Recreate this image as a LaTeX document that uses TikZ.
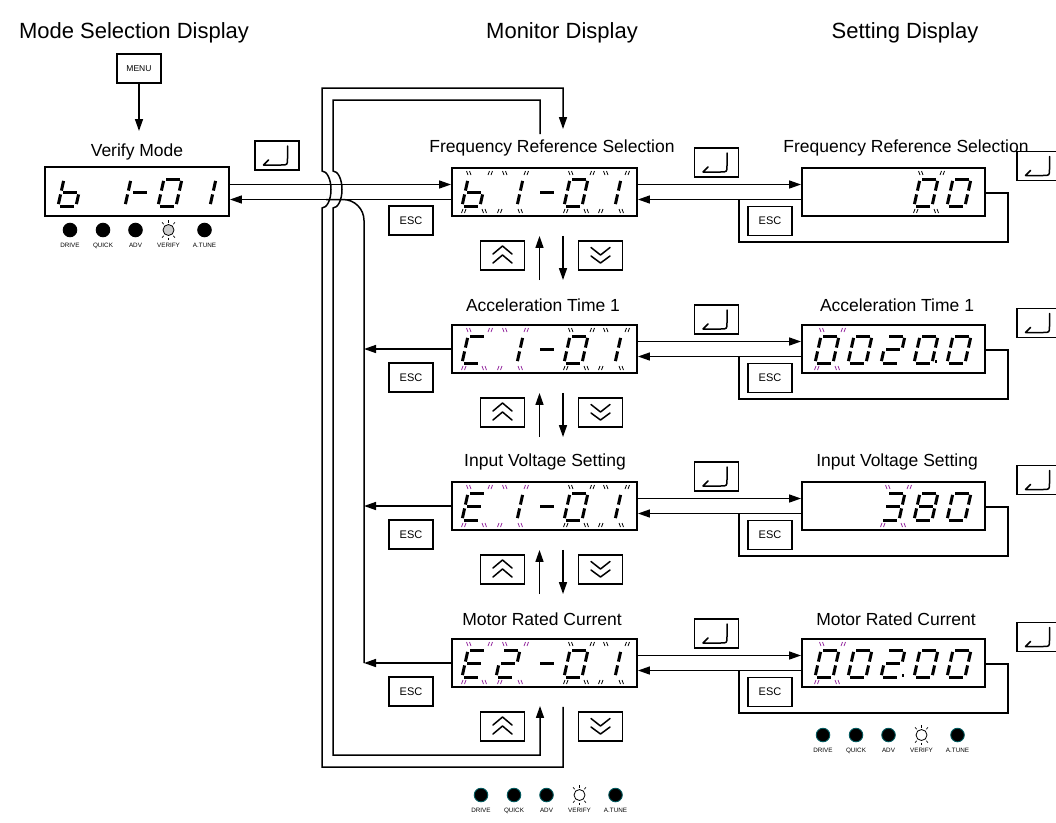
\documentclass[tikz,border=0pt]{standalone}
\usepackage{fontspec}
\setmainfont{Liberation Sans}
\usetikzlibrary{arrows.meta,calc}
\definecolor{blinkp}{RGB}{150,45,160}
\definecolor{ledrim}{RGB}{0,90,95}
% seven-segment helpers: 0=a 1=b 2=c 3=d 4=e 5=f 6=g
\newcommand\drawseg[1]{\ifcase#1\relax
 \draw[segl] (0.13,1)--(0.87,1);\or
 \draw[segl] (1,0.93)--(1,0.57);\or
 \draw[segl] (1,0.43)--(1,0.07);\or
 \draw[segl] (0.13,0)--(0.87,0);\or
 \draw[segl] (0,0.43)--(0,0.07);\or
 \draw[segl] (0,0.93)--(0,0.57);\or
 \draw[segl] (0.13,0.5)--(0.87,0.5);\fi}
\def\dZero{0,1,2,3,4,5}
\def\dOne{1,2}
\def\dTwo{0,1,6,4,3}
\def\dThree{0,1,6,2,3}
\def\dEight{0,1,2,3,4,5,6}
\def\dbb{5,4,6,2,3}
\def\dCC{0,5,4,3}
\def\dEE{0,5,6,4,3}
\def\dDash{6}
\newcommand\dig[3]{\begin{scope}[shift={(#1,#2)},x={(18pt,0pt)},y={(6pt,27pt)}]\foreach \s in #3 {\drawseg{\s}}\end{scope}}
\newcommand\dotseg[2]{\fill (#1+20.5,#2-2.8) rectangle ++(2.8,2.8);}
\newcommand\blink[3]{\begin{scope}[shift={(#1,#2)},line width=0.8pt,draw=#3]
 \draw (4.5,-35) -- (6,-31) (7.5,-35) -- (9,-31);
 \draw (27.5,-35) -- (26,-31) (30.5,-35) -- (29,-31);
 \draw (1,3) -- (-0.5,7) (4,3) -- (2.5,7);
 \draw (20,3) -- (21.5,7) (23,3) -- (24.5,7);
 \end{scope}}
\newcommand\enterglyph[1]{\begin{scope}[shift={(#1.center)}]\draw[glyph] (10.5,-9.5) -- (10.5,3) .. controls (10.5,9.5) .. (4,9.5) -- (-13.5,9.5) -- (-8.5,4.5);\end{scope}}
\newcommand\upglyph[1]{\begin{scope}[shift={(#1.center)}]\draw[glyph] (-9.5,-1.5) -- (0,-9.5) -- (9.5,-1.5) (-9.5,7.5) -- (0,-0.5) -- (9.5,7.5);\end{scope}}
\newcommand\downglyph[1]{\begin{scope}[shift={(#1.center)}]\draw[glyph] (-9.5,-8) -- (0,-0.5) -- (9.5,-8) (-9.5,0.5) -- (0,7.5) -- (9.5,0.5);\end{scope}}
\newcommand\ledrow[5]{%
 \foreach \dx/\lab/\i in {0/DRIVE/1,33/QUICK/2,65.5/ADV/3,134.5/A.TUNE/5}{
   \fill[draw=#4,line width=0.9pt,fill=black] (#1+\dx,#2) circle[radius=6.8pt];
   \node[ledlab] (#5lab\i) at (#1+\dx,#2+17) {\lab};}
 \draw[line width=0.8pt,fill=#3] (#1+98.5,#2) circle[radius=5.5pt];
 \foreach \a in {50,90,130,230,270,310} \draw[line width=0.7pt] ($(#1+98.5,#2)+(\a:7.5pt)$) -- ($(#1+98.5,#2)+(\a:10pt)$);
 \node[ledlab] (#5lab4) at (#1+98.5,#2+17) {VERIFY};}
\begin{document}
\begin{tikzpicture}[x=1pt,y=-1pt,
 line/.style={line width=1.5pt},
 arr/.style={line width=1.5pt,-{Triangle[length=12pt,width=8pt]}},
 disp/.style={draw,line width=1.9pt,minimum width=185pt,minimum height=48pt,inner sep=0pt},
 keybox/.style={draw,line width=1.4pt,minimum width=44pt,minimum height=29pt,inner sep=0pt},
 ttl/.style={font=\fontsize{22}{25}\selectfont},
 lbl/.style={font=\fontsize{17.5}{20}\selectfont},
 esclab/.style={keybox,font=\fontsize{11}{13}\selectfont},
 ledlab/.style={font=\fontsize{6.3}{7}\selectfont,inner sep=0pt,anchor=base},
 segl/.style={line width=3pt,line cap=butt},
 glyph/.style={line width=1.5pt,line cap=round,line join=round}]
\useasboundingbox (0,0) rectangle (1056,822);

% column titles
\node[ttl] (t1) at (134,33) {Mode Selection Display};
\node[ttl] (t2) at (562,33) {Monitor Display};
\node[ttl] (t3) at (905,33) {Setting Display};

% verify mode column
\node[keybox,font=\fontsize{8.5}{10}\selectfont] (menu) at (139,68.5) {MENU};
\node[lbl] (vlab) at (137,152) {Verify Mode};
\node[disp,minimum width=184pt,minimum height=49pt] (vd) at (137,191.5) {};
\coordinate (menuend) at (139,131);
\draw[arr] (menu) -- (menuend);
\node[keybox] (ent0) at (277,155.5) {};
\enterglyph{ent0}
\dig{58}{206}{\dbb}
\dig{107}{206}{\dOne}
\dig{128}{206}{\dDash}
\dig{158}{206}{\dZero}
\dig{192}{206}{\dOne}
\ledrow{70}{230}{gray!40}{black}{va}

% monitor and setting rows
\foreach \k/\c in {1/192,2/349,3/506,4/663}{
 \node[disp] (m\k) at (544.5,\c) {};
 \node[disp,minimum width=183pt] (s\k) at (893.5,\c) {};
 \node[esclab] (mesc\k) at (411,\c+28.5) {ESC};
 \node[esclab] (sesc\k) at (770,\c+29) {ESC};
 \node[keybox] (ment\k) at (716.5,\c-29.5) {};
 \enterglyph{ment\k}
 \node[keybox] (rent\k) at (1039,\c-26) {};
 \enterglyph{rent\k}
 \node[keybox] (up\k) at (502.5,\c+63.5) {};
 \upglyph{up\k}
 \node[keybox] (dn\k) at (600.5,\c+63.5) {};
 \downglyph{dn\k}
 \draw[arr] ([shift={(0,-7.5)}]m\k.east) -- ([shift={(0,-7.5)}]s\k.west);
 \draw[arr] ([shift={(0,7.5)}]s\k.west) -- ([shift={(0,7.5)}]m\k.east);
 \draw[line] ([shift={(0,1)}]s\k.east) -| ([shift={(22,50)}]s\k.east) -| ([shift={(-62,7.5)}]s\k.west);
}

% titles
\node[lbl] (mt1) at (552,148) {Frequency Reference Selection};
\node[lbl] (mt2) at (543,305) {Acceleration Time 1};
\node[lbl] (mt3) at (545,462) {Input Voltage Setting};
\node[lbl] (mt4) at (542,619) {Motor Rated Current};
\node[lbl] (st1) at (906,148) {Frequency Reference Selection};
\node[lbl] (st2) at (897,305) {Acceleration Time 1};
\node[lbl] (st3) at (897,462) {Input Voltage Setting};
\node[lbl] (st4) at (896,619) {Motor Rated Current};

% up/down arrows between monitor displays
\foreach \k/\n in {1/2,2/3,3/4}{
 \draw[arr] ([shift={(-5,-44)}]m\n.north) -- ([shift={(-5,19)}]m\k.south);
 \draw[arr] ([shift={(18.5,19)}]m\k.south) -- ([shift={(18.5,-44)}]m\n.north);
}

% verify <-> first monitor
\coordinate (j0) at ([shift={(0,-7.5)}]m1.west);
\coordinate (j1) at ([shift={(0,7.5)}]m1.west);
\draw[arr] (j0 -| vd.east) -- (j0);
\draw[arr] (j1) -- (j1 -| vd.east);

% ESC bus
\coordinate (bus) at (364,0);
\coordinate (busend) at (326,199.5);
\draw[line,rounded corners=21pt] (m4.west -| bus) -- (j1 -| bus) -- (busend);
\foreach \k in {2,3,4}{\draw[arr] (m\k.west) -- (m\k.west -| bus);}

% wrap-around loops
\draw[arr] ([shift={(18.5,19)}]m4.south) -- (563,767) -- (322,767) -- (322,208)
  arc[start angle=-90,end angle=90,x radius=9pt,y radius=18.5pt] -- (322,88) -- (563,88)
  -- ([shift={(18.5,-38)}]m1.north);
\draw[arr] ([shift={(-4.5,-33)}]m1.north) -- (540,100) -- (333,100) -- (333,171)
  arc[start angle=90,end angle=-90,x radius=9pt,y radius=18.5pt] -- (333,755) -- (540,755)
  -- ([shift={(-4.5,18)}]m4.south);

% monitor digits
\dig{462}{206}{\dbb}\dig{499}{206}{\dOne}\dig{535}{206}{\dDash}\dig{564}{206}{\dZero}\dig{597}{206}{\dOne}
\blink{462}{206}{black}\blink{498}{206}{black}\blink{564}{206}{black}\blink{599}{206}{black}
\dig{462}{363}{\dCC}\dig{499}{363}{\dOne}\dig{535}{363}{\dDash}\dig{564}{363}{\dZero}\dig{597}{363}{\dOne}
\blink{462}{363}{blinkp}\blink{498}{363}{blinkp}\blink{564}{363}{black}\blink{599}{363}{black}
\dig{462}{520}{\dEE}\dig{499}{520}{\dOne}\dig{535}{520}{\dDash}\dig{564}{520}{\dZero}\dig{597}{520}{\dOne}
\blink{462}{520}{blinkp}\blink{498}{520}{blinkp}\blink{564}{520}{black}\blink{599}{520}{black}
\dig{462}{677}{\dEE}\dig{496}{677}{\dTwo}\dig{535}{677}{\dDash}\dig{564}{677}{\dZero}\dig{597}{677}{\dOne}
\blink{462}{677}{blinkp}\blink{498}{677}{blinkp}\blink{564}{677}{black}\blink{599}{677}{black}

% setting digits
\dig{914}{206}{\dZero}\dig{947}{206}{\dZero}
\blink{914}{206}{black}
\dig{815}{363}{\dZero}\dig{848}{363}{\dZero}\dig{881}{363}{\dTwo}\dig{914}{363}{\dZero}\dotseg{914}{363}\dig{947}{363}{\dZero}
\blink{815}{363}{blinkp}
\dig{881}{520}{\dThree}\dig{914}{520}{\dEight}\dig{947}{520}{\dZero}
\blink{881}{520}{blinkp}
\dig{815}{677}{\dZero}\dig{848}{677}{\dZero}\dig{881}{677}{\dTwo}\dotseg{881}{677}\dig{914}{677}{\dZero}\dig{947}{677}{\dZero}
\blink{815}{677}{blinkp}

% indicator rows
\ledrow{481}{795}{white}{ledrim}{ma}
\ledrow{823}{735}{white}{ledrim}{sa}
\end{tikzpicture}
\end{document}
